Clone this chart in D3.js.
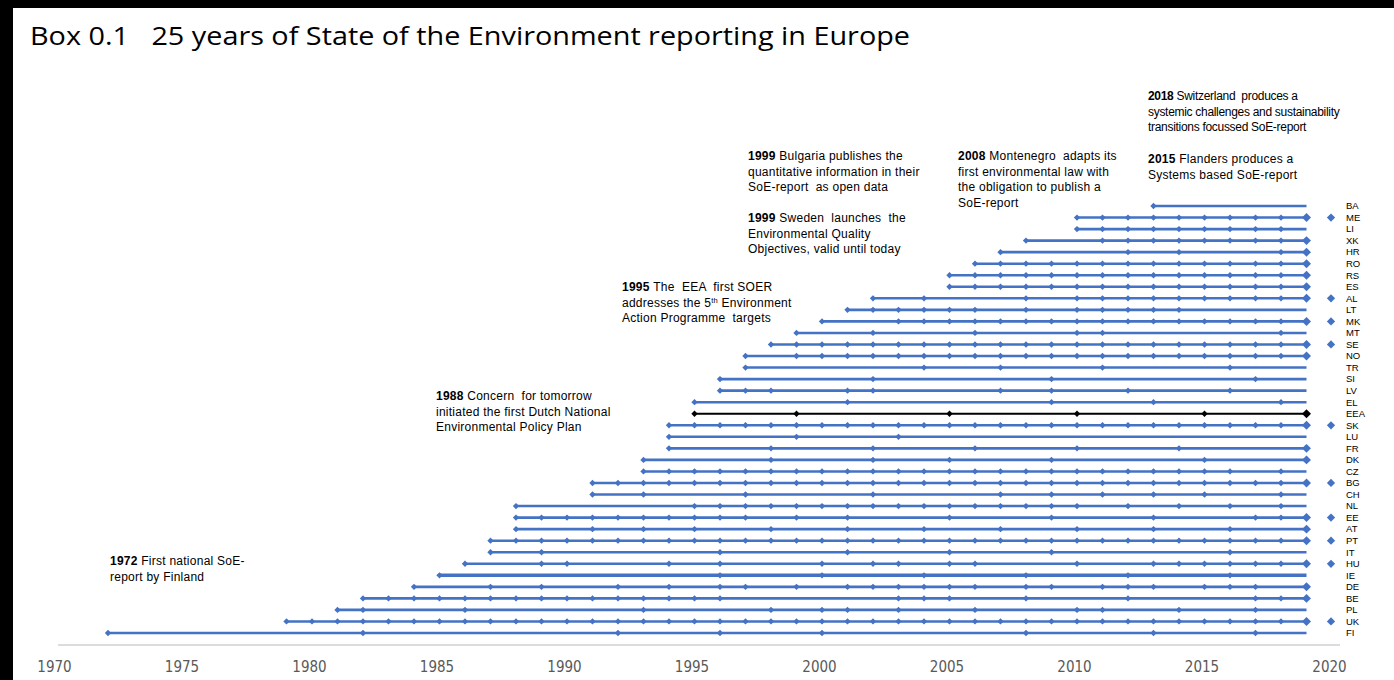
<!DOCTYPE html>
<html>
<head>
<meta charset="utf-8">
<script src="https://cdn.jsdelivr.net/npm/d3@7"></script>
<style>
  body { margin: 0; background: #fff; }
  svg { display: block; }
</style>
</head>
<body>
<svg id="chart" width="1394" height="680"></svg>
<script>
// countries, top to bottom
const countries = ["BA","ME","LI","XK","HR","RO","RS","ES","AL","LT","MK","MT","SE","NO","TR","SI","LV","EL","EEA",
  "SK","LU","FR","DK","CZ","BG","CH","NL","EE","AT","PT","IT","HU","IE","DE","BE","PL","UK","FI"];

// years with a SoE report (first value = start of the line)
const reportYears = [
  [2013],
  [2010,2011,2012,2013,2014,2015,2016,2017,2018,2019],
  [2010,2011,2012,2013,2014,2015,2016,2017,2018],
  [2008,2011,2012,2013,2014,2015,2016,2017,2018,2019],
  [2007,2012,2014,2018,2019],
  [2006,2007,2008,2009,2010,2011,2012,2013,2014,2015,2016,2017,2018,2019],
  [2005,2006,2007,2008,2009,2010,2011,2012,2013,2014,2015,2016,2017,2018,2019],
  [2005,2006,2007,2008,2009,2010,2011,2012,2013,2014,2015,2016,2017,2018,2019],
  [2002,2004,2008,2010,2011,2012,2013,2014,2015,2016,2017,2018,2019],
  [2001,2002,2003,2004,2005,2006,2008,2010,2011,2012,2013,2014],
  [2000,2003,2004,2005,2006,2007,2008,2009,2010,2011,2012,2013,2014,2015,2016,2017,2018,2019],
  [1999,2002,2006,2010,2011,2018],
  [1998,1999,2000,2001,2002,2003,2004,2005,2006,2007,2008,2009,2010,2011,2012,2013,2014,2015,2016,2017,2018,2019],
  [1997,1999,2000,2001,2002,2003,2004,2005,2006,2007,2008,2009,2010,2011,2012,2013,2014,2015,2016,2017,2018,2019],
  [1997,2004,2007,2011,2016],
  [1996,2002,2009,2017],
  [1996,1997,1998,2001,2002,2007,2009,2012,2016],
  [1995,2001,2009,2013,2018],
  [1995,1999,2005,2010,2015,2019],
  [1994,1995,1996,1997,1998,1999,2000,2001,2002,2003,2004,2005,2006,2007,2008,2009,2010,2011,2012,2013,2014,2015,2016,2017,2018,2019],
  [1994,1999,2003],
  [1994,1998,2002,2006,2010,2014,2019],
  [1993,1998,2002,2005,2009,2015,2019],
  [1993,1994,1995,1996,1997,1998,1999,2000,2001,2002,2003,2004,2005,2006,2007,2008,2009,2010,2011,2012,2013,2014,2015,2016,2018],
  [1991,1992,1993,1994,1995,1996,1997,1998,1999,2000,2001,2002,2003,2004,2005,2006,2007,2008,2009,2010,2011,2012,2013,2014,2015,2016,2017,2018,2019],
  [1991,1993,1997,2002,2007,2009,2011,2013,2015,2018],
  [1988,1995,1996,1997,1998,1999,2000,2001,2002,2003,2004,2005,2006,2007,2008,2009,2010,2012,2014,2016,2018],
  [1988,1989,1990,1991,1992,1993,1994,1995,1996,1997,1999,2001,2005,2009,2013,2017,2018,2019],
  [1988,1991,1993,1995,1998,2001,2004,2007,2010,2013,2016,2019],
  [1987,1988,1989,1990,1991,1992,1993,1994,1995,1996,1997,1998,1999,2000,2001,2002,2003,2004,2005,2006,2007,2008,2009,2010,2011,2012,2013,2014,2015,2016,2017,2018,2019],
  [1987,1989,1996,2001,2005,2009,2016],
  [1986,1989,1990,1994,1996,2000,2002,2003,2005,2006,2010,2013,2014,2015,2016,2017,2018,2019],
  [1985,1996,2000,2004,2008,2012,2016],
  [1984,1987,1989,1992,1994,1996,1997,1999,2001,2002,2003,2004,2005,2006,2008,2009,2011,2012,2013,2015,2016,2017,2019],
  [1982,1983,1984,1985,1986,1987,1988,1989,1990,1991,1992,1993,1994,1995,1996,2003,2004,2005,2008,2012,2017,2018,2019],
  [1981,1982,1986,1993,1998,2000,2001,2003,2006,2010,2011,2014,2017],
  [1979,1980,1981,1982,1983,1984,1985,1986,1987,1988,1989,1990,1991,1992,1993,1994,1995,1996,1997,1998,1999,2000,2001,2002,2003,2004,2005,2006,2007,2008,2009,2010,2011,2012,2013,2014,2015,2016,2017,2018,2019],
  [1972,1982,1992,1996,2000,2008,2013,2017]
];

// countries with an extra marker beside the label
const flagged = ["ME","AL","MK","SE","SK","BG","EE","PT","HU","UK"];

const lineEnd = 2019;
const tickYears = [1970,1975,1980,1985,1990,1995,2000,2005,2010,2015,2020];

const titleText = "Box 0.1   25 years of State of the Environment reporting in Europe";

// annotations: year (bold), then lines
const notes = [
  { year: 2018, x: 1148, y: 100, lines: ["Switzerland  produces a", "systemic challenges and sustainability", "transitions focussed SoE-report"] },
  { year: 2015, x: 1148, y: 163, lines: ["Flanders produces a", "Systems based SoE-report"] },
  { year: 1999, x: 748, y: 160, lines: ["Bulgaria publishes the", "quantitative information in their", "SoE-report  as open data"] },
  { year: 2008, x: 958, y: 160, lines: ["Montenegro  adapts its", "first environmental law with", "the obligation to publish a", "SoE-report"] },
  { year: 1999, x: 748, y: 222, lines: ["Sweden  launches  the", "Environmental Quality", "Objectives, valid until today"] },
  { year: 1995, x: 622, y: 291, lines: ["The  EEA  first SOER", "addresses the 5|th| Environment", "Action Programme  targets"] },
  { year: 1988, x: 436, y: 400, lines: ["Concern  for tomorrow", "initiated the first Dutch National", "Environmental Policy Plan"] },
  { year: 1972, x: 110, y: 565, lines: ["First national SoE-", "report by Finland"] }
];

const svg = d3.select("#chart");
const blue = "#4472C4";

// frame
svg.append("rect").attr("x", 0).attr("y", 0).attr("width", 1394).attr("height", 8).attr("fill", "#000");
svg.append("rect").attr("x", 0).attr("y", 0).attr("width", 13).attr("height", 680).attr("fill", "#000");

svg.append("text")
  .attr("x", 30).attr("y", 45)
  .attr("font-family", "'Open Sans', 'Noto Sans', sans-serif")
  .attr("font-size", 25)
  .attr("fill", "#000")
  .attr("textLength", 880)
  .attr("lengthAdjust", "spacingAndGlyphs")
  .style("white-space", "pre")
  .text(titleText);

const x = d3.scaleLinear().domain([1970, 2020]).range([57, 1332]);
const y = d3.scalePoint().domain(countries).range([206, 633]);

// axis
svg.append("line")
  .attr("x1", 58).attr("x2", 1340).attr("y1", 645).attr("y2", 645)
  .attr("stroke", "#d0d0d0").attr("stroke-width", 1.5);

const axis = svg.append("g")
  .attr("transform", "translate(-3,658)")
  .call(d3.axisBottom(x).tickValues(tickYears).tickFormat(d3.format("d")).tickSize(0));
axis.select(".domain").remove();
axis.selectAll("text")
  .attr("font-family", "'Liberation Sans Narrow', 'DejaVu Sans Condensed', sans-serif")
  .attr("font-size", 15)
  .attr("fill", "#595959");

const rows = countries.map((c, i) => ({ name: c, years: reportYears[i] }));

// square diamond (rhombus with equal diagonals)
const rhomb = {
  draw(ctx, size) {
    const r = Math.sqrt(size / 2);
    ctx.moveTo(0, -r); ctx.lineTo(r, 0); ctx.lineTo(0, r); ctx.lineTo(-r, 0); ctx.closePath();
  }
};
const marker = d3.symbol().type(rhomb);

const row = svg.append("g").selectAll("g")
  .data(rows)
  .enter().append("g")
  .attr("transform", d => "translate(0," + y(d.name) + ")");

row.append("line")
  .attr("x1", d => x(d.years[0]))
  .attr("x2", x(lineEnd))
  .attr("y1", 0).attr("y2", 0)
  .attr("stroke", d => d.name == "EEA" ? "#000" : blue)
  .attr("stroke-width", d => d.name == "IE" ? 3.6 : (d.name == "EEA" ? 2.2 : 2.6));

row.selectAll("path")
  .data(d => d.years.map(v => ({ year: v, name: d.name })))
  .enter().append("path")
  .attr("transform", d => "translate(" + x(d.year) + ",0)")
  .attr("d", d => marker.size(d.year == lineEnd ? 40 : 20)())
  .attr("fill", d => d.name == "EEA" ? "#000" : blue);

row.append("text")
  .attr("x", 1346)
  .attr("y", 0)
  .attr("dy", "0.35em")
  .attr("font-family", "'Liberation Sans', Arial, sans-serif")
  .attr("font-size", 9.5)
  .attr("fill", "#000")
  .text(d => d.name);

svg.append("g").selectAll("path")
  .data(flagged)
  .enter().append("path")
  .attr("transform", d => "translate(1331," + y(d) + ")")
  .attr("d", marker.size(34)())
  .attr("fill", blue);

// annotations
const note = svg.append("g").selectAll("text")
  .data(notes)
  .enter().append("text")
  .attr("font-family", "'Liberation Sans', Arial, sans-serif")
  .attr("font-size", 12)
  .attr("letter-spacing", d => d.year == 2018 ? -0.3 : 0.25)
  .attr("fill", "#000")
  .style("white-space", "pre");

note.each(function(d) {
  const t = d3.select(this);
  d.lines.forEach((ln, i) => {
    const first = t.append("tspan").attr("x", d.x).attr("y", d.y + i * 15.6);
    if (i == 0) {
      first.attr("font-weight", "bold").text(d.year + " ");
      t.append("tspan").text(ln);
    } else if (ln.indexOf("|") >= 0) {
      const parts = ln.split("|");
      first.text(parts[0]);
      t.append("tspan").attr("font-size", 7.5).attr("dy", -4).text(parts[1]);
      t.append("tspan").attr("dy", 4).text(parts[2]);
    } else {
      first.text(ln);
    }
  });
});
</script>
</body>
</html>
